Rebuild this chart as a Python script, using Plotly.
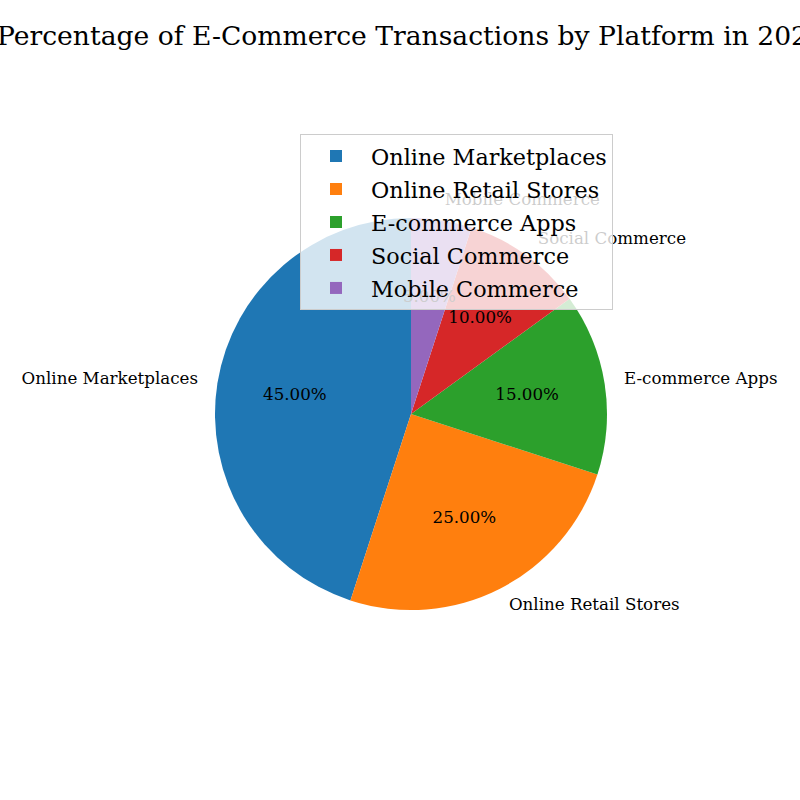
import math
import plotly.graph_objects as go

platforms = ["Online Marketplaces", "Online Retail Stores", "E-commerce Apps",
             "Social Commerce", "Mobile Commerce"]
shares = [45, 25, 15, 10, 5]
colors = ["#1f77b4", "#ff7f0e", "#2ca02c", "#d62728", "#9467bd"]
title_text = "Percentage of E-Commerce Transactions by Platform in 2023"

W = H = 800
cx, cy, R = 411, 414, 196  # pie centre / radius in pixels (from top-left)
RMAX = 1.2                 # radial range extends beyond the pie for labels
RP = R * RMAX              # polar subplot radius in pixels

total = sum(shares)
mids, widths = [], []
cum = 0
for v in shares:
    widths.append(360 * v / total)
    mids.append(90 + 360 * (cum + v / 2) / total)
    cum += v

fig = go.Figure()
# pie wedges as polar bars (one trace per slice -> one legend entry each)
for name, th, wd, c in zip(platforms, mids, widths, colors):
    fig.add_trace(go.Barpolar(
        r=[1], theta=[th], width=[wd], base=0, name=name, legendgroup=name,
        marker=dict(color=c, line=dict(width=0)),
        hovertemplate=name + "<extra></extra>",
    ))

# outer category labels (labeldistance 1.1)
label_pos = ["middle right" if math.cos(math.radians(t)) >= 0 else "middle left"
             for t in mids]
fig.add_trace(go.Scatterpolar(
    r=[1.1] * len(platforms), theta=mids, mode="text", text=platforms,
    textposition=label_pos, cliponaxis=False, showlegend=False,
    marker=dict(size=1), hoverinfo="skip",
    textfont=dict(family="DejaVu Serif", size=16.7, color="black"),
))
# percentage labels (pctdistance 0.6)
fig.add_trace(go.Scatterpolar(
    r=[0.6] * len(platforms), theta=mids, mode="text",
    text=[f"{100 * v / total:.2f}%" for v in shares],
    textposition="middle center", cliponaxis=False, showlegend=False,
    hoverinfo="skip",
    textfont=dict(family="DejaVu Serif", size=16.7, color="black"),
))

fig.update_layout(
    width=W, height=H,
    margin=dict(l=0, r=0, t=0, b=0),
    paper_bgcolor="white", plot_bgcolor="white",
    polar=dict(
        domain=dict(x=[(cx - RP) / W, (cx + RP) / W],
                    y=[1 - (cy + RP) / H, 1 - (cy - RP) / H]),
        bgcolor="rgba(0,0,0,0)",
        radialaxis=dict(range=[0, RMAX], visible=False, showgrid=False),
        angularaxis=dict(direction="counterclockwise", rotation=0,
                         visible=False, showgrid=False, showline=False),
        bargap=0,
    ),
    title=dict(text=title_text, x=cx / W, xanchor="center",
               y=1 - 36 / H, yanchor="middle", yref="container",
               font=dict(family="DejaVu Serif", size=26.6, color="black")),
    legend=dict(x=300 / W, y=1 - 134 / H, xanchor="left", yanchor="top",
                traceorder="grouped", tracegroupgap=1,
                bgcolor="rgba(255,255,255,0.8)", bordercolor="#cccccc",
                borderwidth=1, itemwidth=60,
                font=dict(family="DejaVu Serif", size=22.3, color="black")),
)

fig.write_html("out.html", config={"displayModeBar": False},
               post_script="document.body.style.margin='0px';")
